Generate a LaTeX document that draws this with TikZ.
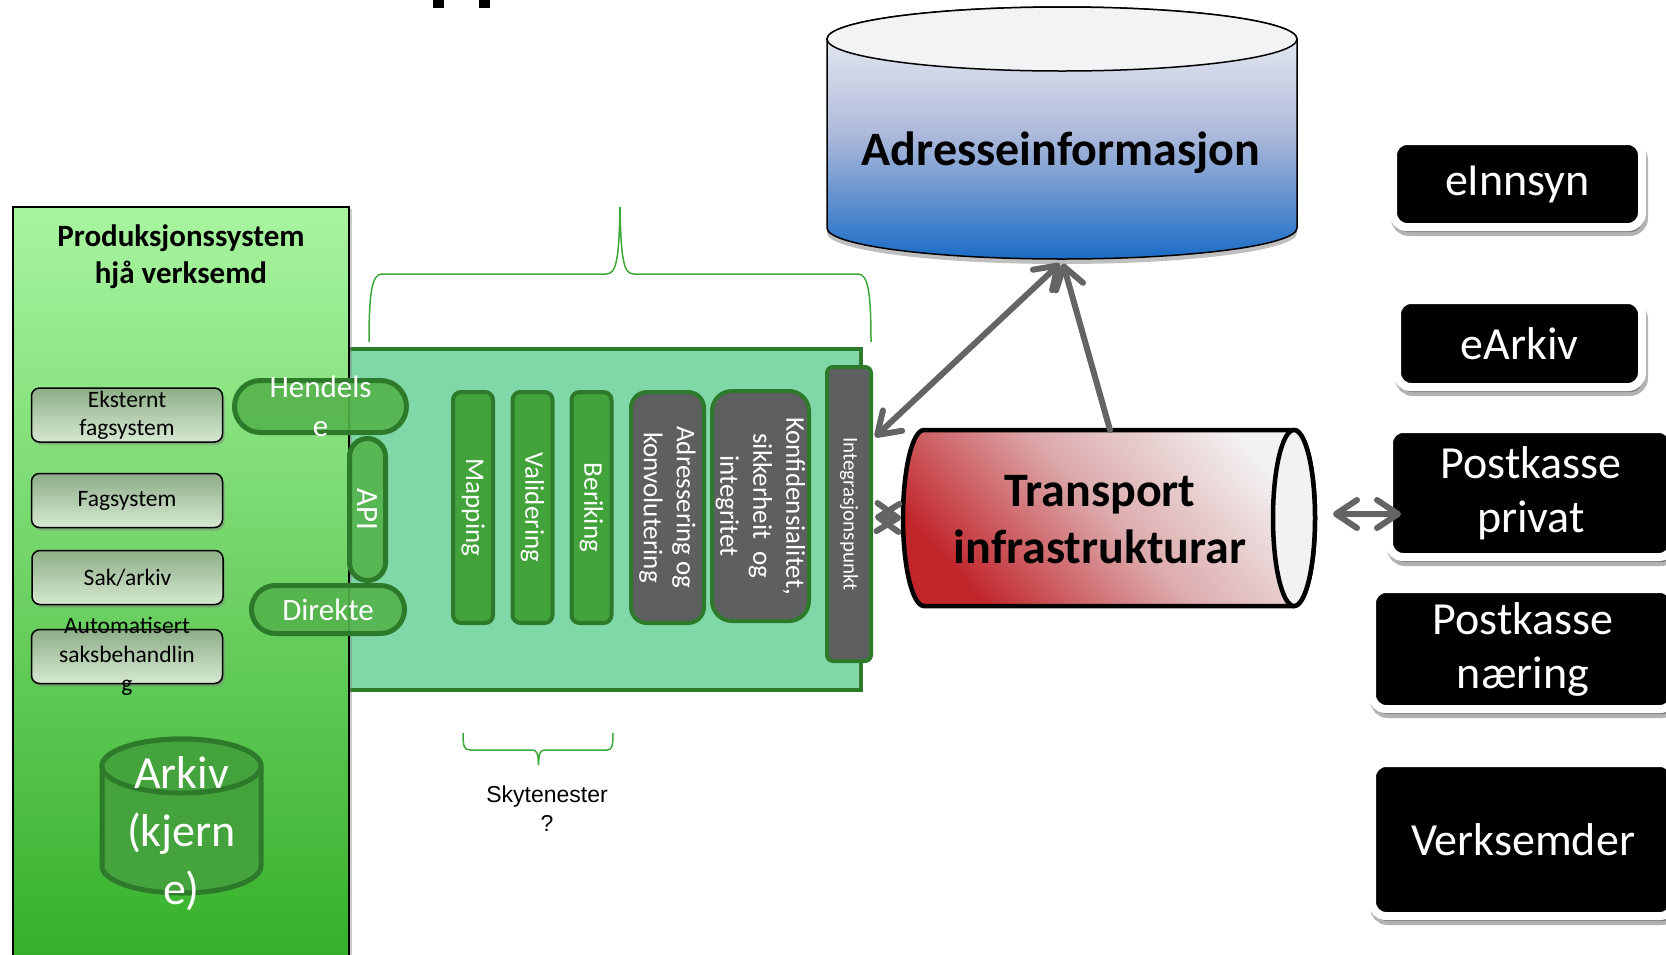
\documentclass[tikz,border=0pt]{standalone}
\usepackage{fontspec}
\setmainfont{Carlito}
\newfontfamily\arialf{Liberation Sans}
\usetikzlibrary{arrows.meta,shapes.misc,shadows,calc}
\newcommand{\fsz}[2]{\fontsize{#1}{#2}\selectfont}
\definecolor{prodtop}{HTML}{A8F5A0}
\definecolor{prodbot}{HTML}{34AF29}
\definecolor{pipeteal}{HTML}{80D8A8}
\definecolor{pdark}{HTML}{2E7A2B}
\definecolor{barg}{HTML}{42A33A}
\definecolor{grayb}{HTML}{5E5F61}
\definecolor{pillg}{HTML}{55B34D}
\definecolor{sbtop}{HTML}{8DAE87}
\definecolor{sbbot}{HTML}{D6E9D2}
\definecolor{adrtop}{HTML}{F4F5F7}
\definecolor{adrmid}{HTML}{AEBADA}
\definecolor{adrbot}{HTML}{1A6CC6}
\definecolor{adrend}{HTML}{F2F3F5}
\definecolor{trred}{HTML}{C1262B}
\definecolor{trmid}{HTML}{DCA9AB}
\definecolor{trwhite}{HTML}{F3F1F1}
\definecolor{arrg}{HTML}{646464}
\definecolor{brg}{HTML}{3DA83A}
\definecolor{arkg}{HTML}{44A33C}
\begin{document}
\begin{tikzpicture}[x=1pt, y=-1pt,
  every node/.style={inner sep=0pt, outer sep=0pt},
  smallbox/.style={rectangle, draw=black, line width=1.5pt, rounded corners=8pt,
    top color=sbtop, bottom color=sbbot, minimum width=191pt, minimum height=54pt,
    font=\fsz{23.5}{28}, align=center,
    drop shadow={shadow xshift=2pt, shadow yshift=-3pt, opacity=0.45}},
  pill/.style={rounded rectangle, fill=pillg, fill opacity=0.9, text opacity=1,
    draw=pdark, line width=5pt, text=white, font=\fsz{31}{39}},
  barbox/.style={rectangle, rotate=-90, draw=pdark, line width=4pt, rounded corners=8pt,
    fill=barg, text=white, font=\fsz{27}{33}, align=center,
    minimum height=40pt, minimum width=231pt},
  graybox/.style={barbox, fill=grayb, rounded corners=16pt},
  blackbox/.style={rectangle, fill=black, draw=white, line width=8pt, rounded corners=14pt,
    text=white, font=\fsz{46}{54}, align=center,
    preaction={draw=black, fill=black, line width=8pt, opacity=0.3,
      transform canvas={xshift=2pt, yshift=-5pt}}},
  brace/.style={draw=brg, line width=1.5pt},
  arr/.style={draw=arrg, line width=6pt, line cap=round, line join=round},
  >={Straight Barb[length=21pt, width=28pt, round]}
]
\useasboundingbox (0,0) rectangle (1666,954);
\clip (0,0) rectangle (1666,954);

% remnant of the title
\fill[black] (433,0) rectangle (444,8);
\fill[black] (479,0) rectangle (490,8);

% pipeline box
\node[draw=pdark, line width=4pt, fill=pipeteal, minimum width=521pt, minimum height=341pt,
  anchor=north west] (pipe) at (340,349) {};

% production system box
\node[draw=black, line width=1.5pt, top color=prodtop, bottom color=prodbot,
  minimum width=336pt, minimum height=760pt, anchor=north west,
  drop shadow={shadow xshift=3pt, shadow yshift=-2pt, opacity=0.4}] (prod) at (13,207) {};
\node[font=\bfseries\fsz{31}{37}, align=center] (prodtitle) at (181,257) {Produksjonssystem\\hjå verksemd};

\node[smallbox] (ekst) at (127,415) {Eksternt\\fagsystem};
\node[smallbox] (fag) at (127,500.5) {Fagsystem};
\node[smallbox] (sak) at (127.5,577.5) {Sak/arkiv};
\node[smallbox, label={[font=\fsz{23.5}{29}, align=center]center:Automatisert\\saksbehandlin\\g}] (auto) at (127,656.5) {};

% pills
\node[pill, rotate=-90, minimum width=142pt, minimum height=36pt] (api) at (367.5,509.5) {API};
\node[pill, minimum width=172pt, minimum height=52pt,
  label={[font=\fsz{31}{39}, text=white, align=center]center:Hendels\\e}] (hend) at (320.5,406.5) {};
\node[pill, minimum width=153pt, minimum height=48pt] (dir) at (328,609.5) {Direkte};

% archive cylinder
\path[draw=pdark, line width=5pt, fill=arkg] (102,766) -- (102,866)
  arc[start angle=180, end angle=360, x radius=79.5pt, y radius=27pt] -- (261,766)
  arc[start angle=0, end angle=180, x radius=79.5pt, y radius=27pt] -- cycle;
\draw[pdark, line width=5pt, fill=arkg] (181.5,766) ellipse[x radius=79.5pt, y radius=27pt];
\node[font=\fsz{46}{58}, text=white, align=center] (arkiv) at (181.5,834) {Arkiv\\(kjern\\e)};

% vertical service bars
\node[barbox] (map) at (473,507.5) {Mapping};
\node[barbox] (val) at (532.5,507.5) {Validering};
\node[barbox] (ber) at (591.5,507.5) {Beriking};
\node[graybox, minimum height=73pt] (adrk) at (667.5,507.5) {Adressering og\\konvolutering};
\node[graybox, minimum height=97pt, minimum width=230pt, rounded corners=20pt] (konf) at (760.5,506) {Konfidensialitet,\\sikkerheit~~og\\integritet};
\node[graybox, minimum height=44pt, minimum width=294pt, rounded corners=6pt, font=\fsz{21}{26}] (intg) at (849,514) {Integrasjonspunkt};

% braces
\draw[brace] (369,342) .. controls (369,292) and (372,274) .. (382,274) -- (606,274)
  .. controls (616,274) and (619,262) .. (620,207)
  .. controls (621,262) and (624,274) .. (634,274) -- (858,274)
  .. controls (868,274) and (871,292) .. (871,342);
\draw[brace] (463,733) .. controls (463,746) and (464,750) .. (470,750) -- (532,750)
  .. controls (537,750) and (538,753) .. (538.5,765)
  .. controls (539,753) and (540,750) .. (545,750) -- (607,750)
  .. controls (612,750) and (613,746) .. (613,733);
\node[font=\arialf\fsz{23}{29}, align=center] (sky) at (547,809) {Skytenester\\?};

% Adresseinformasjon cylinder
\path[draw=black, line width=1.5pt, top color=adrtop, bottom color=adrbot, middle color=adrmid,
  preaction={fill=black, opacity=0.25, transform canvas={yshift=-5pt}}]
  (827,39) -- (827,228) arc[start angle=180, end angle=360, x radius=235pt, y radius=31pt]
  -- (1297,39) arc[start angle=0, end angle=180, x radius=235pt, y radius=32pt] -- cycle;
\draw[black, line width=1.5pt, fill=adrend] (1062,39) ellipse[x radius=235pt, y radius=32pt];
\node[minimum width=470pt, minimum height=252pt] (adr) at (1062,133.5) {};
\node[font=\bfseries\fsz{48}{58}] (adrtext) at (1061,153) {Adresseinformasjon};

% Transport cylinder
\path[draw=black, line width=4.5pt, top color=trwhite, bottom color=trred, middle color=trmid, shading angle=-48]
  (1294,430) -- (924,430) arc[start angle=90, end angle=270, x radius=21pt, y radius=88pt]
  -- (1294,606) arc[start angle=270, end angle=450, x radius=21pt, y radius=88pt] -- cycle;
\draw[black, line width=4.5pt, fill=trwhite] (1294,518) ellipse[x radius=21pt, y radius=88pt];
\node[minimum width=412pt, minimum height=176pt] (trans) at (1109,518) {};
\node[font=\bfseries\fsz{48}{57}, align=center] (transtext) at (1100,520) {Transport\\infrastrukturar};

% right boxes
\node[blackbox, minimum width=249pt, minimum height=86pt] (einn) at (1517.5,184) {eInnsyn};
\node[blackbox, minimum width=245pt, minimum height=87pt] (eark) at (1519.5,343.5) {eArkiv};
\node[blackbox, minimum width=284pt, minimum height=128pt] (pp) at (1531,493) {Postkasse\\privat};
\node[blackbox, minimum width=302pt, minimum height=120pt] (pn) at (1523,649) {Postkasse\\næring};
\node[blackbox, minimum width=302pt, minimum height=153pt] (verk) at (1523,839.5) {Verksemder};

% connectors
\draw[arr, <->] ($(intg.north)+(4pt,77pt)$) -- ($(adr.south)+(-2pt,-4pt)$);
\draw[arr, ->] ($(trans.north)+(1pt,0pt)$) -- ($(adr.south)+(1pt,-4pt)$);
\draw[arr, <->] ($(intg.north)+(4pt,-3pt)$) -- ($(trans.west)+(-2pt,0pt)$);
\draw[arr, <->] ($(trans.east)+(18pt,4pt)$) -- ($(pp.west |- trans.east)+(12pt,4pt)$);
\end{tikzpicture}
\end{document}
